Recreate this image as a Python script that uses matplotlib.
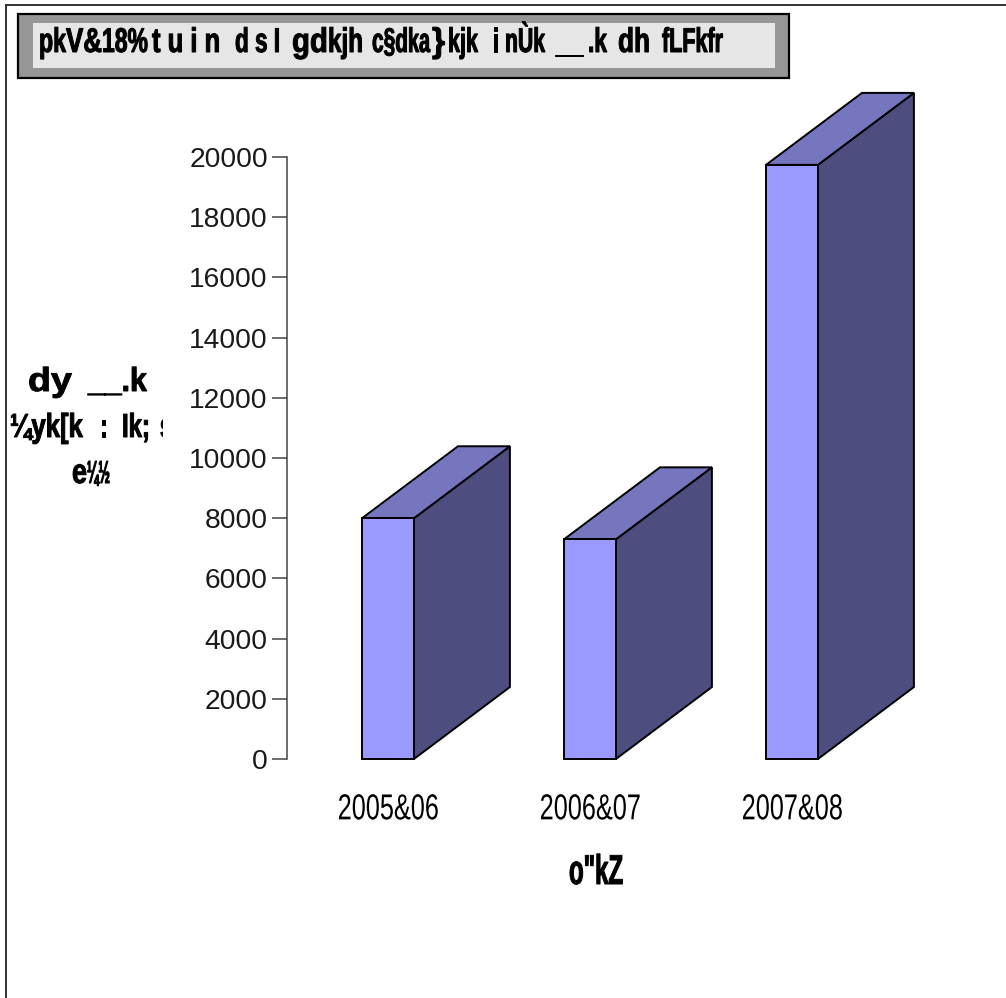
#!/usr/bin/env python3

"""Pseudo-3D bar chart with a boxed title and garbled legacy-font labels."""

import matplotlib
matplotlib.use('Agg')
import matplotlib.pyplot as plt
from matplotlib.patches import Polygon, Rectangle
from matplotlib.lines import Line2D
from matplotlib.patheffects import AbstractPathEffect
from matplotlib.transforms import Affine2D, Bbox, TransformedBbox

W, H = 1006, 998

categories = ['2005&06', '2006&07', '2007&08']
values = [8000, 7300, 19740]
y_ticks = [0, 2000, 4000, 6000, 8000, 10000, 12000, 14000, 16000, 18000, 20000]

# the legacy font packs glyphs unevenly, so the words are placed one by one
title_words = ['pk', 'V&', '18%', 't u i n', 'd s I', 'gd', 'kjh', 'c§d', 'ka', '}', 'kjk',
               'i', 'nÙk', '__', '.k', 'dh', 'fLFkfr']
title_spans = [(39, 66), (66, 102), (102, 148), (152, 220), (235, 280), (292, 328), (328, 363),
               (372, 408), (408, 430), (432, 445), (448, 478), (493, 498), (505, 545),
               (555, 583), (588, 607), (618, 650), (662, 723)]

ylabel_words = ['dy', '__.k', '¼yk[k', ':', 'Ik;', 's', 'e', '¼½']
ylabel_spans = [(28, 72), (88, 147), (10, 83), (100, 107), (122, 150), (160, 172), (72, 87), (87, 110)]
ylabel_base = [391, 391, 437, 437, 437, 437, 483, 483]
ylabel_size = [24, 24, 24, 24, 24, 24, 25, 23]

xlabel_text = 'o"kZ'

face = ['Liberation Sans', 'DejaVu Sans']


class Squeeze(AbstractPathEffect):
    """Scale the glyph outlines sideways about a pixel x (no narrow font is installed)."""

    def __init__(self, x0, sx, stroke=0.0):
        super().__init__()
        self.x0 = x0
        self.sx = sx
        self.stroke = stroke

    def draw_path(self, renderer, gc, tpath, affine, rgbFace=None):
        squeeze = Affine2D().translate(-self.x0, 0).scale(self.sx, 1).translate(self.x0, 0)
        gc0 = renderer.new_gc()
        gc0.copy_properties(gc)
        if self.stroke:
            # thicken the strokes, squeezing thins them out
            gc0.set_linewidth(self.stroke)
            gc0.set_foreground('black')
        renderer.draw_path(gc0, tpath, affine + squeeze, rgbFace)
        gc0.restore()


def px_box(left, top, right, bottom):
    # figure fractions from pixel edges, origin at top left
    return [left / W, 1 - bottom / H, (right - left) / W, (bottom - top) / H]


def fit_text(fig, span, baseline, s, size, clip_right=None):
    # left-anchored bold text, squeezed so its width fills the span in pixels
    t = fig.text(span[0] / W, 1 - baseline / H, s, fontsize=size, fontweight='bold', family=face,
                 ha='left', va='baseline')
    width = t.get_window_extent(fig.canvas.get_renderer()).width
    t.set_path_effects([Squeeze(span[0], (span[1] - span[0]) / width, stroke=0.7)])
    if clip_right is not None:
        t.set_clip_box(TransformedBbox(Bbox([[0, 0], [clip_right / W, 1]]), fig.transFigure))
        t.set_clip_on(True)
    return t


fig = plt.figure(figsize=(W / 100, H / 100), dpi=100, facecolor='white')

# page frame: only the top and left edges show
for xs, ys in [((6, W), (5, 5)), ((6, 6), (5, H))]:
    fig.add_artist(Line2D([x / W for x in xs], [1 - y / H for y in ys],
                          color='#333333', lw=1.4))

# title box
fig.add_artist(Rectangle((18 / W, 1 - 78 / H), 771 / W, 64 / H, facecolor='#969696',
                         edgecolor='black', lw=1.6, transform=fig.transFigure))
fig.add_artist(Rectangle((33 / W, 1 - 68 / H), 742 / W, 45 / H, facecolor='#e6e6e6',
                         edgecolor='none', transform=fig.transFigure))
for word, span in zip(title_words, title_spans):
    fit_text(fig, span, 52, word, 24.7)

ax = fig.add_axes(px_box(287, 157, 893, 759))
ax.set_xlim(-0.5, 2.5)
ax.set_ylim(0, 20000)

bar_w = 0.257
depth_x = 0.475
depth_y = 2390
for i, v in enumerate(values):
    l, r = i - bar_w / 2, i + bar_w / 2
    ax.add_patch(Polygon([(r, 0), (r + depth_x, depth_y), (r + depth_x, v + depth_y), (r, v)],
                         facecolor='#4d4d80', edgecolor='black', lw=1.4, clip_on=False))
    ax.add_patch(Polygon([(l, v), (l + depth_x, v + depth_y), (r + depth_x, v + depth_y), (r, v)],
                         facecolor='#7676bf', edgecolor='black', lw=1.4, clip_on=False))
ax.bar(range(len(values)), values, bar_w, facecolor='#9999ff', edgecolor='black', lw=1.4,
       clip_on=False, zorder=3)

for side in ['top', 'right', 'bottom']:
    ax.spines[side].set_visible(False)
ax.spines['left'].set_color('#444444')
ax.spines['left'].set_linewidth(1.1)
ax.set_yticks(y_ticks)
ax.tick_params(axis='y', length=10.8, width=1.1, color='#444444', pad=3, labelsize=20.3,
               labelcolor='#1a1a1a')
for lab in ax.get_yticklabels():
    lab.set_family(face)

ax.set_xticks(range(len(categories)))
ax.set_xticklabels(categories, fontsize=26, family=face)
ax.tick_params(axis='x', length=0, pad=24)
for i, lab in enumerate(ax.get_xticklabels()):
    lab.set_path_effects([Squeeze(ax.transData.transform((i, 0))[0] + 1, 0.7)])

fit_text(fig, (569, 623), 884, xlabel_text, 30)

for word, span, base, size in zip(ylabel_words, ylabel_spans, ylabel_base, ylabel_size):
    fit_text(fig, span, base, word, size, clip_right=163)

fig.savefig('out.png', dpi=100, facecolor='white')
